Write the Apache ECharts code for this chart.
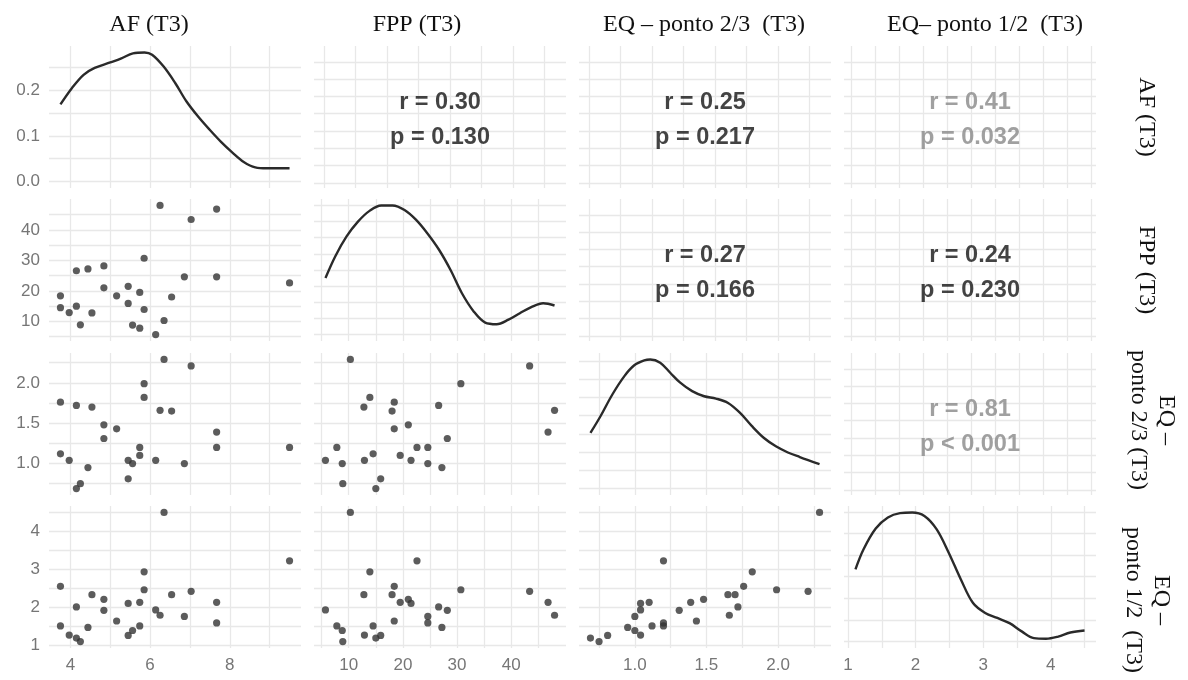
<!DOCTYPE html>
<html><head><meta charset="utf-8">
<script src="https://cdn.jsdelivr.net/npm/echarts@6/dist/echarts.min.js"></script>
<style>html,body{margin:0;padding:0;background:#fff}#c{width:1188px;height:680px}</style>
</head><body><div id="c"></div>
<script>
// ---------- labels ----------
const colTitles = ['AF (T3)', 'FPP (T3)', 'EQ – ponto 2/3  (T3)', 'EQ– ponto 1/2  (T3)'];
const rowTitles = ['AF (T3)', 'FPP (T3)', 'EQ –\nponto 2/3 (T3)', 'EQ –\nponto 1/2  (T3)'];

// ---------- data (27 subjects) ----------
const af   = [6.25, 7.67, 7.03, 5.85, 4.15, 4.44, 4.84, 6.86, 7.67, 9.50, 4.84, 5.45, 3.75, 5.16, 5.74, 6.54, 5.45, 3.75, 4.15, 3.97, 4.54, 5.85, 4.25, 5.56, 5.74, 6.35, 6.14];
const fpp  = [48.0, 46.8, 43.4, 30.7, 26.6, 27.2, 28.2, 24.6, 24.6, 22.6, 21.0, 21.5, 18.4, 18.4, 19.5, 18.0, 15.9, 14.5, 15.0, 12.9, 12.8, 13.9, 8.9, 8.8, 7.8, 10.3, 5.7];
const eq23 = [1.66, 1.39, 2.21, 1.99, 1.72, 0.95, 1.31, 1.00, 1.20, 1.20, 1.48, 1.04, 1.76, 1.43, 1.10, 1.65, 0.81, 1.12, 0.69, 1.04, 1.70, 1.82, 0.75, 1.00, 1.20, 2.29, 1.04];
const eq12 = [1.80, 2.14, 2.43, 2.47, 2.02, 1.48, 1.93, 1.77, 1.60, 3.23, 2.22, 2.11, 2.56, 1.65, 2.14, 2.34, 1.27, 1.52, 1.20, 1.28, 2.34, 2.94, 1.11, 1.40, 1.52, 4.50, 1.94];

// ---------- density curves ----------
const afDensX   = [3.75, 4.04, 4.33, 4.61, 5.00, 5.28, 5.57, 5.86, 6.05, 6.34, 6.63, 6.91, 7.20, 7.49, 7.78, 8.06, 8.35, 8.64, 8.93, 9.50];
const afDensY   = [0.169, 0.205, 0.234, 0.249, 0.261, 0.270, 0.281, 0.283, 0.278, 0.252, 0.216, 0.176, 0.143, 0.114, 0.087, 0.064, 0.043, 0.031, 0.029, 0.029];
const fppDensX  = [5.7, 7.5, 9.6, 11.7, 13.9, 16.0, 18.1, 20.3, 22.4, 24.5, 26.7, 28.8, 30.9, 33.1, 35.2, 37.3, 39.5, 41.6, 43.7, 45.9, 48.0];
const fppDensY  = [0.0175, 0.0242, 0.0304, 0.0350, 0.0384, 0.0400, 0.0400, 0.0386, 0.0356, 0.0314, 0.0262, 0.0200, 0.0128, 0.0071, 0.0037, 0.0032, 0.0046, 0.0066, 0.0085, 0.0097, 0.0090];
const eq23DensX = [0.69, 0.76, 0.843, 0.927, 0.996, 1.066, 1.108, 1.177, 1.247, 1.317, 1.400, 1.484, 1.567, 1.651, 1.735, 1.818, 1.902, 1.985, 2.069, 2.152, 2.29];
const eq23DensY = [0.381, 0.495, 0.644, 0.770, 0.844, 0.878, 0.884, 0.862, 0.793, 0.725, 0.667, 0.632, 0.616, 0.586, 0.518, 0.427, 0.346, 0.289, 0.247, 0.216, 0.168];
const eq12DensX = [1.11, 1.23, 1.41, 1.59, 1.77, 1.95, 2.13, 2.31, 2.49, 2.67, 2.85, 3.03, 3.21, 3.39, 3.57, 3.75, 3.93, 4.11, 4.29, 4.50];
const eq12DensY = [0.334, 0.427, 0.523, 0.574, 0.594, 0.597, 0.581, 0.520, 0.411, 0.287, 0.178, 0.132, 0.109, 0.085, 0.047, 0.016, 0.013, 0.023, 0.042, 0.051];

// ---------- ticks / grid lines ----------
const afTicks   = [4, 6, 8];
const afLines   = [4, 5, 6, 7, 8, 9];
const fppTicks  = [10, 20, 30, 40];
const fppLines  = [5, 10, 15, 20, 25, 30, 35, 40, 45];
const eq23Ticks = [1.0, 1.5, 2.0];
const eq23Lines = [0.75, 1.0, 1.25, 1.5, 1.75, 2.0, 2.25];
const eq12Ticks = [1, 2, 3, 4];
const eq12Lines = [1, 1.5, 2, 2.5, 3, 3.5, 4, 4.5];
const densTicks = [0, 0.1, 0.2];
const afDensLines   = [0, 0.05, 0.1, 0.15, 0.2, 0.25];
const fppDensLines  = [0, 0.005, 0.01, 0.015, 0.02, 0.025, 0.03, 0.035, 0.04];
const eq23DensLines = [0, 0.125, 0.25, 0.375, 0.5, 0.625, 0.75, 0.875];
const eq12DensLines = [0, 0.1, 0.2, 0.3, 0.4, 0.5, 0.6];
const textHLines  = [0.035, 0.157, 0.279, 0.401, 0.523, 0.645, 0.767, 0.889];
const textVLinesA = [0.04, 0.165, 0.29, 0.415, 0.54, 0.665, 0.79, 0.915];
const textVLinesB = [0.03, 0.125, 0.22, 0.315, 0.41, 0.505, 0.6, 0.695, 0.79, 0.885, 0.98];

// ---------- correlations ----------
const corrCells = [[0, 1], [0, 2], [0, 3], [1, 2], [1, 3], [2, 3]];
const corrR   = ['0.30', '0.25', '0.41', '0.27', '0.24', '0.81'];
const corrP   = ['= 0.130', '= 0.217', '= 0.032', '= 0.166', '= 0.230', '< 0.001'];
const corrSig = [false, false, true, false, false, true];

// ---------- layout ----------
const colLeft = [49, 314, 579, 844];
const rowTop = [46, 199, 353, 506];
const cellW = 252, cellH = 142;

const vars = [af, fpp, eq23, eq12];
const varTicks = [afTicks, fppTicks, eq23Ticks, eq12Ticks];
const varLines = [afLines, fppLines, eq23Lines, eq12Lines];
const varFmt = [v => String(v), v => String(v), v => v.toFixed(1), v => String(v)];
const dens = [[afDensX, afDensY], [fppDensX, fppDensY], [eq23DensX, eq23DensY], [eq12DensX, eq12DensY]];
const densLines = [afDensLines, fppDensLines, eq23DensLines, eq12DensLines];

function ext(arr) {
  const mn = Math.min(...arr), mx = Math.max(...arr), d = (mx - mn) * 0.05;
  return [mn - d, mx + d];
}
const GRID_COLOR = '#e8e8e8';
const LABEL = { color: '#767676', fontSize: 17, fontFamily: 'Liberation Sans, Arial, sans-serif' };

function mkAxis(gridIndex, range, lines, labels, showLabels, fmt) {
  return {
    type: 'value', gridIndex, min: range[0], max: range[1],
    axisLine: { show: false },
    axisTick: { show: false, customValues: lines },
    axisLabel: Object.assign({ show: showLabels, customValues: labels, formatter: fmt, margin: 9 }, LABEL),
    splitLine: { show: true, lineStyle: { color: GRID_COLOR, width: 1.3 } },
    minorSplitLine: { show: false }
  };
}

const grids = [], xAxes = [], yAxes = [], series = [];
for (let r = 0; r < 4; r++) {
  for (let c = 0; c < 4; c++) {
    const gi = grids.length;
    grids.push({ left: colLeft[c], top: rowTop[r], width: cellW, height: cellH });
    if (r > c) {
      xAxes.push(mkAxis(gi, ext(vars[c]), varLines[c], varTicks[c], r === 3, varFmt[c]));
      yAxes.push(mkAxis(gi, ext(vars[r]), varLines[r], varTicks[r], c === 0, varFmt[r]));
      series.push({
        type: 'scatter', xAxisIndex: gi, yAxisIndex: gi, symbolSize: 7.2,
        itemStyle: { color: '#333333' }, silent: true,
        data: vars[c].map((v, i) => [v, vars[r][i]])
      });
    } else if (r === c) {
      const dy = dens[r][1];
      const mx = Math.max(...dy);
      xAxes.push(mkAxis(gi, ext(vars[c]), varLines[c], varTicks[c], r === 3, varFmt[c]));
      yAxes.push(mkAxis(gi, [-0.05 * mx, 1.05 * mx], densLines[r], densTicks, r === 0, v => v.toFixed(1)));
      series.push({
        type: 'line', xAxisIndex: gi, yAxisIndex: gi, showSymbol: false, smooth: 0.35,
        lineStyle: { color: '#2a2a2a', width: 2.4 }, silent: true,
        data: dens[r][0].map((v, i) => [v, dy[i]])
      });
    } else {
      const k = corrCells.findIndex(p => p[0] === r && p[1] === c);
      xAxes.push(mkAxis(gi, [0, 1], c === 3 ? textVLinesB : textVLinesA, [], false, v => ''));
      yAxes.push(mkAxis(gi, [0, 1], textHLines, [], false, v => ''));
      series.push({
        type: 'scatter', xAxisIndex: gi, yAxisIndex: gi, symbolSize: 1, silent: true,
        itemStyle: { color: 'rgba(0,0,0,0)' },
        data: [[0.5, 0.5]],
        label: {
          show: true, position: 'inside', offset: [0, 3],
          formatter: 'r = ' + corrR[k] + '\np ' + corrP[k],
          fontFamily: 'Liberation Sans, Arial, sans-serif', fontWeight: 'bold', fontSize: 23.5,
          lineHeight: 35, align: 'center', verticalAlign: 'middle',
          color: corrSig[k] ? '#888888' : '#141414'
        }
      });
    }
  }
}

const SERIF = '24px "Liberation Serif", "Times New Roman", serif';
const colTitleX = [149, 417, 704, 985];
const rowTitleX = [1146, 1146, 1152, 1147];
const rowTitleY = [117, 270, 420, 600];
const graphics = [];
colTitles.forEach((t, i) => graphics.push({
  type: 'text', x: colTitleX[i], y: 25, silent: true,
  style: { text: t, font: SERIF, fill: '#111', align: 'center', verticalAlign: 'middle' }
}));
rowTitles.forEach((t, i) => graphics.push({
  type: 'text', x: rowTitleX[i], y: rowTitleY[i], rotation: -Math.PI / 2, silent: true,
  style: { text: t, font: SERIF, fill: '#111', align: 'center', verticalAlign: 'middle', lineHeight: 28 }
}));

const chart = echarts.init(document.getElementById('c'), null, { renderer: 'canvas' });
chart.setOption({
  backgroundColor: '#ffffff',
  animation: false,
  grid: grids, xAxis: xAxes, yAxis: yAxes, series,
  graphic: graphics
});
</script></body></html>
